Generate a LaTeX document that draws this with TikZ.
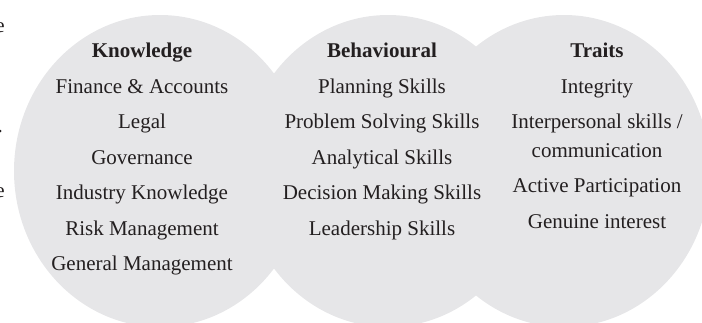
\documentclass[tikz,border=0pt]{standalone}
\usepackage{fontspec}
\setmainfont{Liberation Serif}
\usepackage{tikz}
\usetikzlibrary{positioning}
\definecolor{bubblegrey}{RGB}{230,230,232}
\definecolor{inkgrey}{RGB}{35,31,32}
\tikzstyle{bubble}=[fill=bubblegrey, draw=none]
\tikzstyle{skill}=[inner sep=0pt, anchor=base, text=inkgrey, font=\fontsize{21}{25}\selectfont]
\tikzstyle{heading}=[skill, font=\fontsize{21}{25}\selectfont\bfseries]
\newcommand{\skill}{\node[skill]}
\newcommand{\heading}{\node[heading]}

\begin{document}
\begin{tikzpicture}[x=1pt, y=-1pt]
        \useasboundingbox (0,0) rectangle (702,322);
            % the three bubbles
            \fill[bubble] (160,171) ellipse [x radius=146, y radius=156];
            \fill[bubble] (388,171) ellipse [x radius=146, y radius=156];
            \fill[bubble] (564,171) ellipse [x radius=146, y radius=156];
            % cut-off letters at the left edge
            \node[skill, anchor=base east] (frag1) at (5,32) {e};
            \node[skill, anchor=base east] (frag2) at (3,132) {.};
            \node[skill, anchor=base east] (frag3) at (5,197) {e};
            % knowledge
            \heading (k0) at (142,57) {Knowledge};
            \skill (k1) at (142,93) {Finance \& Accounts};
            \skill (k2) at (142,128) {Legal};
            \skill (k3) at (142,164) {Governance};
            \skill (k4) at (142,199) {Industry Knowledge};
            \skill (k5) at (142,235) {Risk Management};
            \skill (k6) at (142,270) {General Management};
            % behavioural
            \heading (b0) at (382,57) {Behavioural};
            \skill (b1) at (382,93) {Planning Skills};
            \skill (b2) at (382,128) {Problem Solving Skills};
            \skill (b3) at (382,164) {Analytical Skills};
            \skill (b4) at (382,199) {Decision Making Skills};
            \skill (b5) at (382,235) {Leadership Skills};
            % traits
            \heading (t0) at (597,57) {Traits};
            \skill (t1) at (597,93) {Integrity};
            \skill (t2) at (597,128) {Interpersonal skills /};
            \skill (t3) at (597,157) {communication};
            \skill (t4) at (597,192) {Active Participation};
            \skill (t5) at (597,228) {Genuine interest};
        \end{tikzpicture}
\end{document}
